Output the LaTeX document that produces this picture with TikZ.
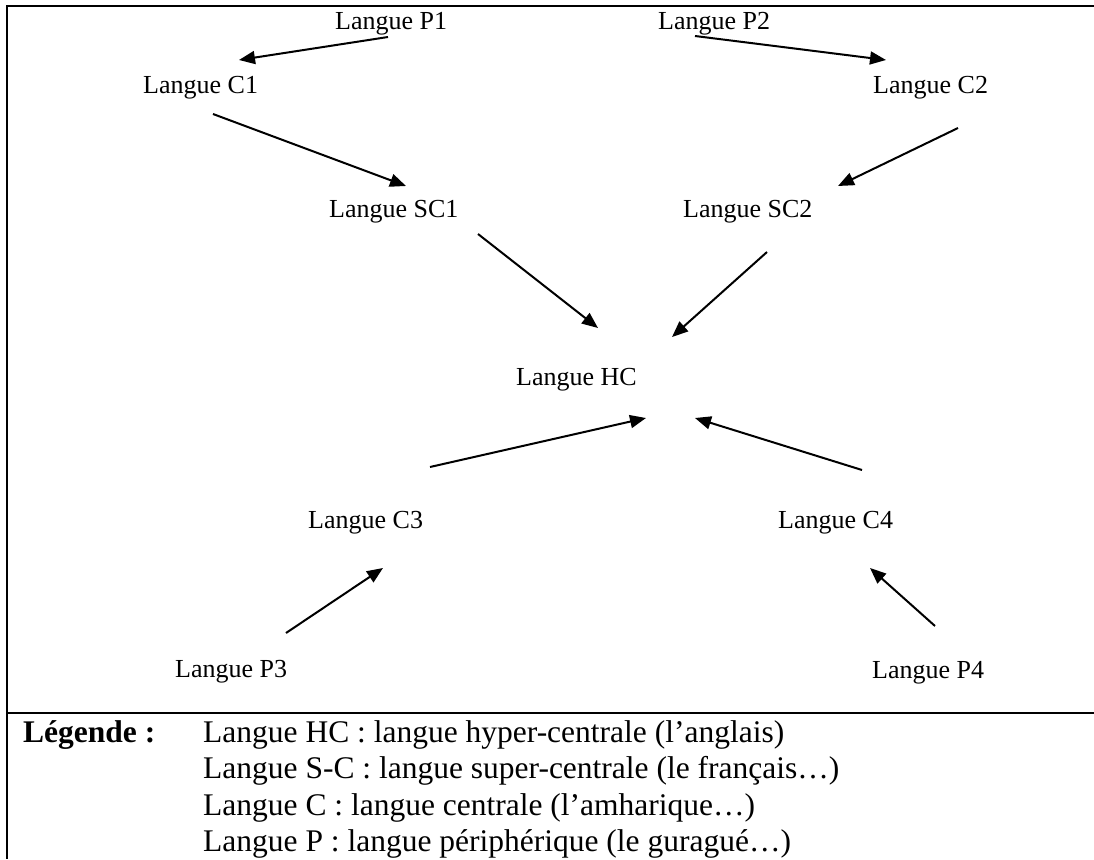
\documentclass[tikz,border=0pt]{standalone}
\usepackage{fontspec}
\setmainfont{Liberation Serif}
\usetikzlibrary{arrows.meta}
\tikzset{
  lbl/.style={anchor=base west, inner sep=0pt, font=\fontsize{26}{31}\selectfont},
  leg/.style={anchor=base west, inner sep=0pt, font=\fontsize{31.5}{37}\selectfont},
  arr/.style={line width=2pt, -{Triangle[length=16pt,width=13pt]}},
  frame/.style={line width=2.4pt}
}
\begin{document}
\begin{tikzpicture}[x=1pt,y=-1pt]
\useasboundingbox (0,0) rectangle (1094,859);
% frame
\coordinate (tl) at (7,6);
\coordinate (tr) at (1094,6);
\coordinate (bl) at (7,859);
\coordinate (ml) at (7,713);
\coordinate (mr) at (1094,713);
\draw[frame] (tr) -- (tl) -- (bl);
\draw[frame] (ml) -- (mr);
% nodes
\node[lbl] (P1) at (335,30) {Langue P1};
\node[lbl] (P2) at (658,30) {Langue P2};
\node[lbl] (C1) at (143,93) {Langue C1};
\node[lbl] (C2) at (873,93) {Langue C2};
\node[lbl] (SC1) at (329,217) {Langue SC1};
\node[lbl] (SC2) at (683,217) {Langue SC2};
\node[lbl] (HC) at (516,385) {Langue HC};
\node[lbl] (C3) at (308,528) {Langue C3};
\node[lbl] (C4) at (778,528) {Langue C4};
\node[lbl] (P3) at (175,677) {Langue P3};
\node[lbl] (P4) at (872,678) {Langue P4};
% arrows
\draw[arr] ([shift={(53,7)}]P1.base west) -- ([shift={(96,-33)}]C1.base west);
\draw[arr] ([shift={(37,6)}]P2.base west) -- ([shift={(13,-33)}]C2.base west);
\draw[arr] ([shift={(70,21)}]C1.base west) -- ([shift={(77,-31)}]SC1.base west);
\draw[arr] ([shift={(85,35)}]C2.base west) -- ([shift={(155,-31)}]SC2.base west);
\draw[arr] ([shift={(149,17)}]SC1.base west) -- ([shift={(82,-57)}]HC.base west);
\draw[arr] ([shift={(84,35)}]SC2.base west) -- ([shift={(156,-48)}]HC.base west);
\draw[arr] ([shift={(122,-61)}]C3.base west) -- ([shift={(130,33)}]HC.base west);
\draw[arr] ([shift={(84,-58)}]C4.base west) -- ([shift={(179,33)}]HC.base west);
\draw[arr] ([shift={(111,-44)}]P3.base west) -- ([shift={(75,40)}]C3.base west);
\draw[arr] ([shift={(63,-52)}]P4.base west) -- ([shift={(92,40)}]C4.base west);
% legend
\node[leg, font=\fontsize{31.5}{37}\selectfont\bfseries] (LG) at (23,742) {Légende :};
\node[leg] (L1) at (203,742) {Langue HC : langue hyper-centrale (l’anglais)};
\node[leg] (L2) at (203,778.5) {Langue S-C : langue super-centrale (le français…)};
\node[leg] (L3) at (203,815) {Langue C : langue centrale (l’amharique…)};
\node[leg] (L4) at (203,851.5) {Langue P : langue périphérique (le guragué…)};
\end{tikzpicture}
\end{document}
